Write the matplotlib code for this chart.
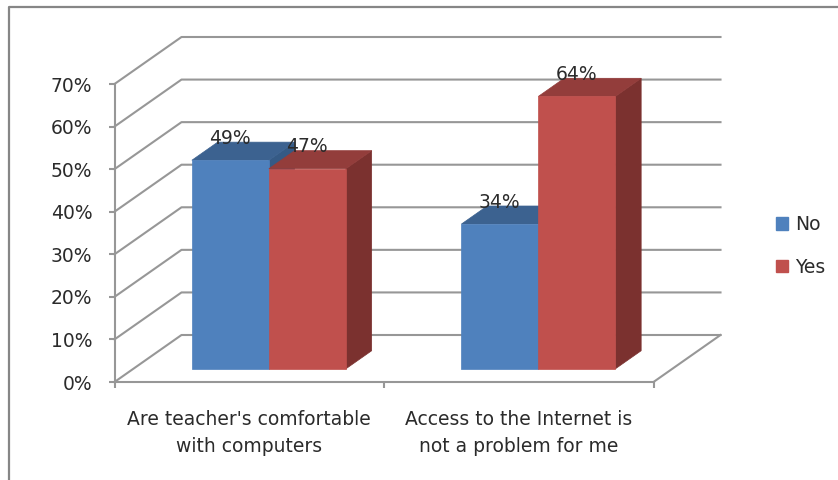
import matplotlib
matplotlib.use("Agg")
import matplotlib.pyplot as plt
from matplotlib.lines import Line2D
from matplotlib.patches import Patch

categories = ["Are teacher's comfortable\nwith computers", "Access to the Internet is\nnot a problem for me"]
no_values = [49, 34]
yes_values = [47, 64]
y_ticks = [0, 10, 20, 30, 40, 50, 60, 70]

# oblique offset of the back wall, in data units (category, percent)
DEPTH_X = 0.2486
DEPTH_Y = 11.04
BAR_NEAR = 0.28
BAR_FAR = 0.665
BAR_WIDTH = 0.2857
GAP = 0.2175

GRID = "#979797"
TEXT = "#2b2b2b"
BLUE = ("#4F81BD", "#3C6290", "#355A85")
RED = ("#C0504D", "#933D3B", "#7B312F")

W, H = 838, 480
fig = plt.figure(figsize=(W / 100, H / 100), dpi=100, facecolor="white")
ax = fig.add_axes([114.5 / W, 1 - 382 / H, 539 / W, 298 / H])
ax.set_xlim(0, 2)
ax.set_ylim(0, 70)
ax.patch.set_visible(False)


def draw_bar(left, value, colors):
    right = left + BAR_WIDTH
    nx, ny = BAR_NEAR * DEPTH_X, BAR_NEAR * DEPTH_Y
    fx, fy = BAR_FAR * DEPTH_X, BAR_FAR * DEPTH_Y
    kw = dict(clip_on=False, zorder=3, linewidth=0.5)
    ax.fill([right + nx, right + fx, right + fx, right + nx],
            [ny, fy, value + fy, value + ny], color=colors[2], **kw)
    ax.fill([left + nx, left + fx, right + fx, right + nx],
            [value + ny, value + fy, value + fy, value + ny], color=colors[1], **kw)
    ax.fill([left + nx, right + nx, right + nx, left + nx],
            [ny, ny, value + ny, value + ny], color=colors[0], **kw)
    ax.annotate(f"{value}%", (left + nx + BAR_WIDTH / 2, value + ny), xytext=(0, 22),
                textcoords="offset pixels", ha="center", va="center",
                fontsize=13.5, color=TEXT, zorder=5, annotation_clip=False)


for v in y_ticks:
    ax.plot([0, DEPTH_X, 2 + DEPTH_X], [v, v + DEPTH_Y, v + DEPTH_Y], color=GRID,
            lw=1.5, clip_on=False, zorder=1)
ax.plot([2, 2 + DEPTH_X], [0, DEPTH_Y], color=GRID, lw=1.5, clip_on=False, zorder=1)

for i in range(len(categories)):
    left = i + GAP
    draw_bar(left, no_values[i], BLUE)
    draw_bar(left + BAR_WIDTH, yes_values[i], RED)

for side in ("top", "right"):
    ax.spines[side].set_visible(False)
for side in ("left", "bottom"):
    ax.spines[side].set_color(GRID)
    ax.spines[side].set_linewidth(1.5)

ax.set_yticks(y_ticks)
ax.set_yticklabels([f"{v}%" for v in y_ticks], fontsize=13.5, color=TEXT)
ax.tick_params(axis="y", length=4.5, width=1.5, color=GRID, pad=11.5)
ax.set_xticks([0, 1, 2])
ax.set_xticklabels([])
ax.tick_params(axis="x", which="major", length=4, width=1.5, color=GRID)
ax.set_xticks([0.5, 1.5], minor=True)
ax.set_xticklabels(categories, minor=True, fontsize=13.5, color=TEXT, linespacing=1.55)
ax.tick_params(axis="x", which="minor", length=0, pad=20)

handles = [Patch(color=BLUE[0], label="No"), Patch(color=RED[0], label="Yes")]
fig.legend(handles=handles, loc="center left", bbox_to_anchor=(768 / W, 1 - 246 / H),
           frameon=False, fontsize=13.5, handlelength=0.65, handleheight=0.65,
           handletextpad=0.4, labelspacing=1.25, borderaxespad=0, labelcolor=TEXT)

# chart border, cropped by the image on the right and bottom
fig.add_artist(Line2D([9 / W, 9 / W, 1], [0, 1 - 7 / H, 1 - 7 / H], color="#868686", lw=1.6))

fig.savefig("out.png", dpi=100)
